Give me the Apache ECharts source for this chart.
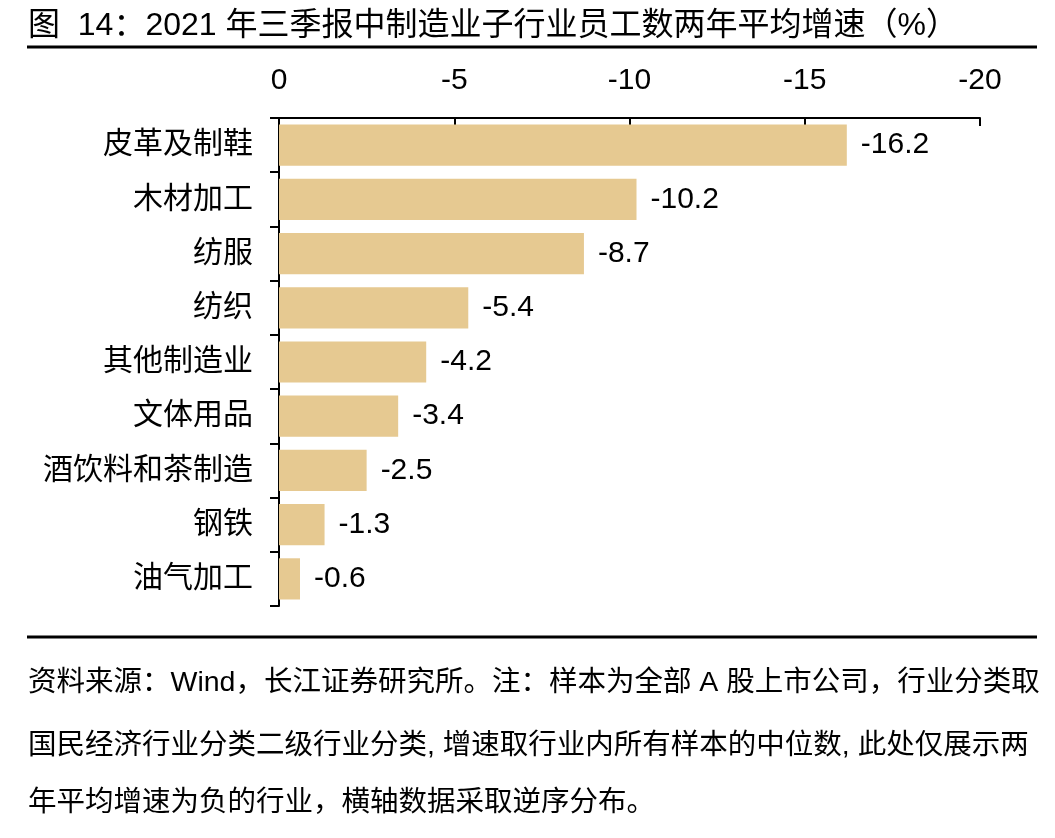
<!DOCTYPE html>
<html><head><meta charset="utf-8">
<script src="https://cdn.jsdelivr.net/npm/echarts@6/dist/echarts.min.js"></script>
<style>html,body{margin:0;padding:0;background:#fff}#c{width:1055px;height:838px}</style>
</head><body><div id="c"></div>
<script>
const categories = ['皮革及制鞋','木材加工','纺服','纺织','其他制造业','文体用品','酒饮料和茶制造','钢铁','油气加工'];
const values = [-16.2, -10.2, -8.7, -5.4, -4.2, -3.4, -2.5, -1.3, -0.6];
const titleText = '图  14：2021 年三季报中制造业子行业员工数两年平均增速（%）';
const footerLines = [
  '资料来源：Wind，长江证券研究所。注：样本为全部 A 股上市公司，行业分类取',
  '国民经济行业分类二级行业分类, 增速取行业内所有样本的中位数, 此处仅展示两',
  '年平均增速为负的行业，横轴数据采取逆序分布。'
];
const FONT = '"Liberation Sans", Arial, "Noto Sans CJK SC", sans-serif';
const chart = echarts.init(document.getElementById('c'), null, {renderer:'canvas'});
const graphics = [
  {type:'text', left:28, top:10, style:{text:titleText, font:'32px ' + FONT, fill:'#000'}},
  {type:'line', shape:{x1:27, y1:47, x2:1037, y2:47}, style:{stroke:'#000', lineWidth:3}},
  {type:'line', shape:{x1:27, y1:637, x2:1037, y2:637}, style:{stroke:'#000', lineWidth:3}}
];
const footerY = [669, 732, 789];
footerLines.forEach((t, i) => graphics.push({type:'text', left:28, top:footerY[i], style:{text:t, font:'28.5px ' + FONT, fill:'#000'}}));
chart.setOption({
  animation:false,
  grid:{left:279, top:118, right:75, bottom:232, containLabel:false},
  xAxis:{type:'value', position:'top', inverse:true, min:-20, max:0, interval:5,
    axisLine:{show:true, lineStyle:{color:'#000', width:2}},
    axisTick:{show:true, inside:true, length:8, lineStyle:{color:'#000', width:2}},
    axisLabel:{color:'#000', fontSize:30, fontFamily:FONT, margin:22},
    splitLine:{show:false}},
  yAxis:{type:'category', data:categories, inverse:true,
    axisLine:{show:true, lineStyle:{color:'#000', width:2}},
    axisTick:{show:true, length:9, alignWithLabel:false, lineStyle:{color:'#000', width:2}},
    axisLabel:{color:'#000', fontSize:30, fontFamily:FONT, margin:26}},
  series:[{type:'bar', data:values, barCategoryGap:'24%',
    itemStyle:{color:'#E6C991'},
    label:{show:true, position:'right', distance:14, color:'#000', fontSize:30, fontFamily:FONT,
      formatter:p => p.value.toFixed(1)}}],
  graphic:graphics
});
</script></body></html>
